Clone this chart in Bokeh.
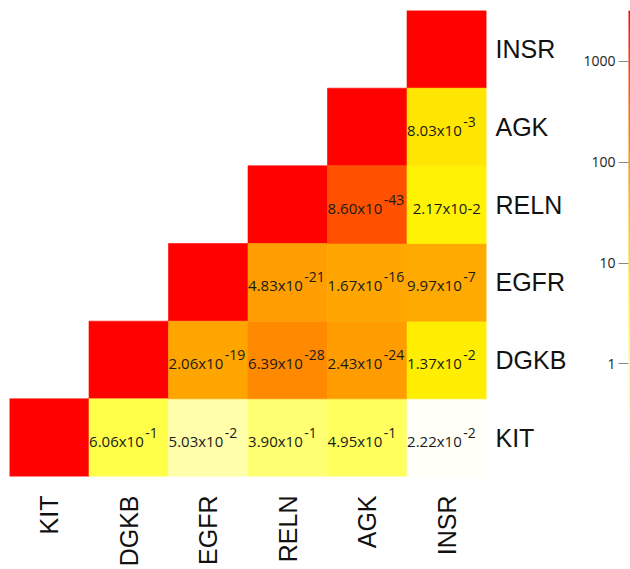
import numpy as np
from bokeh.plotting import figure
from bokeh.layouts import row
from bokeh.models import ColumnDataSource, LogColorMapper, FixedTicker, PrintfTickFormatter
from bokeh.transform import transform
from bokeh.core.properties import value
from bokeh.embed import file_html
from bokeh.resources import INLINE

# ---------------- data ----------------
genes = ["KIT", "DGKB", "EGFR", "RELN", "AGK", "INSR"]

# cells of the triangle (column gene, row gene)
cell_x = ["KIT", "DGKB", "EGFR", "RELN", "AGK", "INSR",
          "DGKB", "EGFR", "RELN", "AGK", "INSR",
          "EGFR", "RELN", "AGK", "INSR",
          "RELN", "AGK", "INSR",
          "AGK", "INSR",
          "INSR"]
cell_y = ["KIT", "DGKB", "EGFR", "RELN", "AGK", "INSR",
          "KIT", "KIT", "KIT", "KIT", "KIT",
          "DGKB", "DGKB", "DGKB", "DGKB",
          "EGFR", "EGFR", "EGFR",
          "RELN", "RELN",
          "AGK"]
# colour score
score = [3000, 3000, 3000, 3000, 3000, 3000,
         2.1, 0.63, 1.35, 1.7, 0.1,
         66, 138, 85, 7,
         80, 63, 59,
         600, 6,
         8.5]

# p-value labels of the off-diagonal cells
label_x = ["DGKB", "EGFR", "RELN", "AGK", "INSR",
           "EGFR", "RELN", "AGK", "INSR",
           "RELN", "AGK", "INSR",
           "AGK", "INSR",
           "INSR"]
label_y = ["KIT", "KIT", "KIT", "KIT", "KIT",
           "DGKB", "DGKB", "DGKB", "DGKB",
           "EGFR", "EGFR", "EGFR",
           "RELN", "RELN",
           "AGK"]
mantissa = ["6.06x10", "5.03x10", "3.90x10", "4.95x10", "2.22x10",
            "2.06x10", "6.39x10", "2.43x10", "1.37x10",
            "4.83x10", "1.67x10", "9.97x10",
            "8.60x10", "2.17x10-2",
            "8.03x10"]
exponent = ["-1", "-2", "-1", "-1", "-2",
            "-19", "-28", "-24", "-2",
            "-21", "-16", "-7",
            "-43", "",
            "-3"]

colorbar_low = 0.0767
colorbar_high = 3184
colorbar_ticks = [1, 10, 100, 1000]

# colour ramp anchors (log10 of value -> colour)
anchor_logs = [-1.115, -0.5, 0.0, 0.5, 0.8, 1.0, 1.5, 2.0, 2.5, 3.0, 3.503]
anchor_hex = ["#FFFFFF", "#FFFFD0", "#FFFF90", "#FFFF20", "#FFF200", "#FFE000",
              "#FFC000", "#FF9600", "#FF6C00", "#FF3C00", "#FF0000"]


def ramp(logv):
    rgb = np.array([[int(h[i:i + 2], 16) for i in (1, 3, 5)] for h in anchor_hex], dtype=float)
    out = []
    for lv in np.atleast_1d(logv):
        c = [int(round(np.interp(lv, anchor_logs, rgb[:, k]))) for k in range(3)]
        out.append("#%02X%02X%02X" % tuple(c))
    return out


llo, lhi = np.log10(colorbar_low), np.log10(colorbar_high)
palette = ramp(np.linspace(llo, lhi, 256))
mapper = LogColorMapper(palette=palette, low=colorbar_low, high=colorbar_high,
                        high_color=palette[-1], low_color=palette[0])

# ---------------- heatmap ----------------
FONT = "Liberation Sans"
NUMFONT = "Open Sans"

p = figure(width=580, height=569, x_range=genes, y_range=genes,
           output_backend="svg", toolbar_location=None,
           y_axis_location="right",
           min_border_left=9, min_border_top=10, min_border_right=94, min_border_bottom=82)

src = ColumnDataSource(dict(x=cell_x, y=cell_y, score=score))
p.rect(x="x", y="y", width=1, height=1, source=src,
       fill_color=transform("score", mapper), line_color=transform("score", mapper),
       line_width=0.6)

sup_idx = [i for i, e in enumerate(exponent) if e]
plain_idx = [i for i, e in enumerate(exponent) if not e]
sup_src = ColumnDataSource(dict(x=[label_x[i] for i in sup_idx], y=[label_y[i] for i in sup_idx],
                                m=[mantissa[i] for i in sup_idx], e=[exponent[i] for i in sup_idx]))
plain_src = ColumnDataSource(dict(x=[label_x[i] for i in plain_idx], y=[label_y[i] for i in plain_idx],
                                  m=[mantissa[i] for i in plain_idx]))

p.text(x="x", y="y", text="m", source=sup_src, x_offset=15, y_offset=3,
       text_align="right", text_baseline="middle",
       text_font=value(NUMFONT), text_font_size="15px", text_color="#1A1A1A")
p.text(x="x", y="y", text="e", source=sup_src, x_offset=16.5, y_offset=-5,
       text_align="left", text_baseline="middle",
       text_font=value(NUMFONT), text_font_size="14px", text_color="#1A1A1A")
p.text(x="x", y="y", text="m", source=plain_src, y_offset=3,
       text_align="center", text_baseline="middle",
       text_font=value(NUMFONT), text_font_size="15px", text_color="#1A1A1A")

p.grid.visible = False
p.outline_line_color = None
p.axis.axis_line_color = None
p.axis.major_tick_line_color = None
p.axis.minor_tick_line_color = None
p.axis.major_label_text_font = FONT
p.axis.major_label_text_font_size = "25px"
p.axis.major_label_text_color = "#111111"
p.yaxis.major_label_standoff = 3
p.xaxis.major_label_standoff = 13
p.xaxis.major_label_orientation = np.pi / 2

# ---------------- colour bar ----------------
cb = figure(width=50, height=569, x_range=(0, 1), y_range=(colorbar_low, colorbar_high),
            y_axis_type="log", output_backend="svg", toolbar_location=None,
            min_border_left=46, min_border_right=0, min_border_top=10, min_border_bottom=91)
edges = np.geomspace(colorbar_low, colorbar_high, 257)
mids = 0.5 * (np.log10(edges[:-1]) + np.log10(edges[1:]))
cols = ramp(mids)
cb.quad(left=0, right=1, bottom=edges[:-1], top=edges[1:], fill_color=cols, line_color=cols,
        line_width=0.5)
cb.xaxis.visible = False
cb.grid.visible = False
cb.outline_line_color = None
cb.yaxis.ticker = FixedTicker(ticks=colorbar_ticks, minor_ticks=[])
cb.yaxis.formatter = PrintfTickFormatter(format="%d")
cb.yaxis.axis_line_color = None
cb.yaxis.major_tick_out = 10
cb.yaxis.major_tick_in = 0
cb.yaxis.major_tick_line_color = "#888888"
cb.yaxis.minor_tick_line_color = None
cb.yaxis.major_label_text_font = NUMFONT
cb.yaxis.major_label_text_font_size = "14px"
cb.yaxis.major_label_text_color = "#222222"
cb.yaxis.major_label_standoff = 3

layout = row(p, cb)
open("out.html", "w").write(file_html(layout, INLINE))
